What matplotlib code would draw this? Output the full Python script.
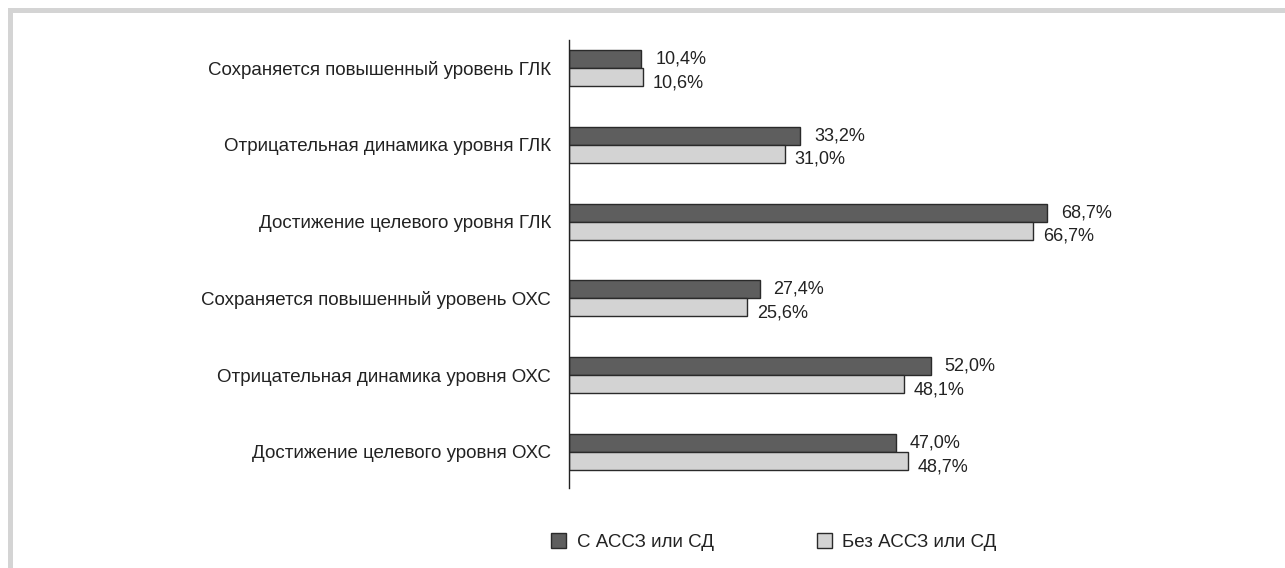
import matplotlib
matplotlib.use('Agg')
import matplotlib.pyplot as plt
from matplotlib.patches import Rectangle, Patch
import numpy as np

plt.rcParams['font.family'] = ['Liberation Sans', 'DejaVu Sans']

# categories, top to bottom
categories = [
    'Сохраняется повышенный уровень ГЛК',
    'Отрицательная динамика уровня ГЛК',
    'Достижение целевого уровня ГЛК',
    'Сохраняется повышенный уровень ОХС',
    'Отрицательная динамика уровня ОХС',
    'Достижение целевого уровня ОХС',
]
with_cvd = [10.4, 33.2, 68.7, 27.4, 52.0, 47.0]      # С АССЗ или СД
without_cvd = [10.6, 31.0, 66.7, 25.6, 48.1, 48.7]   # Без АССЗ или СД
series_names = ['С АССЗ или СД', 'Без АССЗ или СД']

dark = '#5e5e5e'
light = '#d3d3d3'
edge = '#2a2a2a'
txt = '#222222'

W, H = 1285, 568
fig = plt.figure(figsize=(W / 100, H / 100), dpi=100)

# grey frame along top and left edges
fig.add_artist(Rectangle((8 / W, 0), 5 / W, 1 - 8 / H, transform=fig.transFigure,
                         facecolor='#d4d4d4', edgecolor='none'))
fig.add_artist(Rectangle((8 / W, 1 - 13 / H), 1 - 8 / W, 5 / H, transform=fig.transFigure,
                         facecolor='#d4d4d4', edgecolor='none'))

left, right = 569, 1200
top, bottom = 40, 488
ax = fig.add_axes([left / W, 1 - bottom / H, (right - left) / W, (bottom - top) / H])

y = np.arange(len(categories))
h = 0.235
ax.barh(y - h / 2, with_cvd, height=h, color=dark, edgecolor=edge, linewidth=1)
ax.barh(y + h / 2, without_cvd, height=h, color=light, edgecolor=edge, linewidth=1)

for yi, v in zip(y, with_cvd):
    ax.annotate(f'{v:.1f}%'.replace('.', ','), (v, yi - h / 2), xytext=(10, 0),
                textcoords='offset points', va='center', ha='left', fontsize=13, color=txt)
for yi, v in zip(y, without_cvd):
    ax.annotate(f'{v:.1f}%'.replace('.', ','), (v, yi + h / 2), xytext=(7, -4),
                textcoords='offset points', va='center', ha='left', fontsize=13, color=txt)

ax.set_xlim(0, (right - left) / 6.96)
ax.set_ylim(5 + 36 / 76.8, -28 / 76.8)
ax.set_yticks(y)
ax.set_yticklabels(categories, fontsize=13.5, color=txt)
ax.tick_params(axis='y', length=0, pad=13)
ax.set_xticks([])
for s in ['top', 'right', 'bottom']:
    ax.spines[s].set_visible(False)
ax.spines['left'].set_color(txt)
ax.spines['left'].set_linewidth(1)

handles = [Patch(facecolor=dark, edgecolor=edge, label=series_names[0]),
           Patch(facecolor=light, edgecolor=edge, label=series_names[1])]
fig.legend(handles=handles, loc='center', bbox_to_anchor=(774 / W, 1 - 542 / H), ncol=2,
           frameon=False, fontsize=13.5, handlelength=0.8, handleheight=0.8,
           handletextpad=0.55, columnspacing=5.5, labelcolor=txt)

fig.savefig('out.png', dpi=100, facecolor='white')
